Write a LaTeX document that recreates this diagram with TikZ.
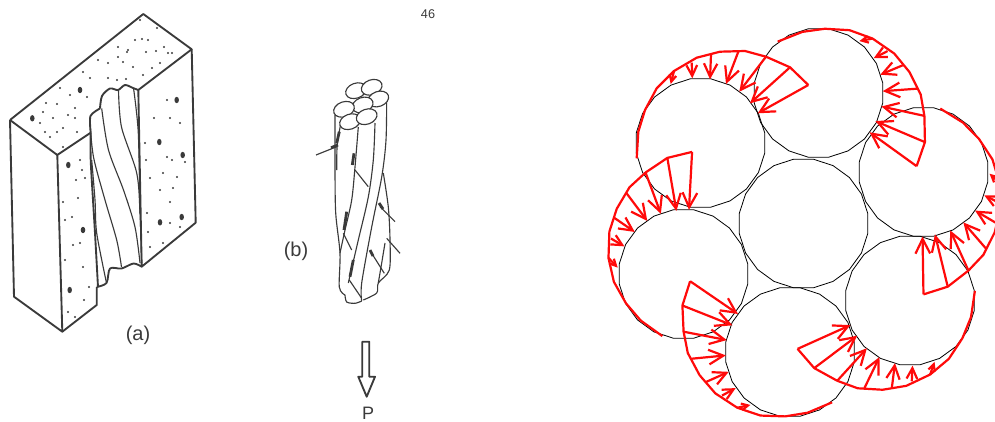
\documentclass[tikz,border=0pt]{standalone}
\usepackage{xcolor}
\usepackage{fontspec}
\setmainfont{Liberation Sans}
\usetikzlibrary{arrows.meta,shapes.geometric}
\definecolor{scanink}{HTML}{3A3A3A}
\definecolor{stressred}{HTML}{FF0A0A}

\begin{document}
\begin{tikzpicture}[x=0.75pt, y=-0.75pt,
    scan_line/.style={draw=scanink, line width=1.4pt, line join=round},
    scan_thin/.style={draw=scanink, line width=0.85pt},
    scan_label/.style={text=scanink, inner sep=0pt},
    wire_strand/.style={draw=black, regular polygon, regular polygon sides=20, minimum size=97.5pt, inner sep=0pt, line width=0.6pt},
    stress_line/.style={draw=stressred, line width=1.65pt, line join=round},
    stress_arrow/.style={draw=stressred, line width=1.65pt, -{Straight Barb[length=#1, width=#1, line width=1.65pt]}}
]
    \useasboundingbox (0,0) rectangle (995,421);

    % Block with the groove, (a)
    \draw[scan_line] (10,120) -- (143.3,14) -- (191.7,49.3) -- (138.3,90);
    \draw[scan_line] (10,120) -- (57.3,155) -- (90.7,132.7);
    \draw[scan_line] (191.7,49.3) -- (195.7,222.7) -- (141.7,266.7) -- (138.3,90);
    \draw[scan_line] (10,120) -- (14,296.7) -- (62.3,331.7) -- (57.3,155);
    \draw[scan_line] (62.3,331.7) -- (96.7,305) -- (96.7,287);
    \draw[scan_line] plot[smooth] coordinates {(90.7,132.7) (90.7,160) (93,200) (95,233) (98,287)};
    \draw[scan_line] plot[smooth] coordinates {(90.7,132.7) (90.5,116) (100,108.5)};
    \draw[scan_line] plot[smooth] coordinates {(100,108.5) (102,96) (110,88.5) (118,90) (125,85) (133,88) (138.3,90)};
    \draw[scan_line] plot[smooth] coordinates {(96.7,287) (106.5,283) (110,268.5) (121.5,268.5) (133.5,263.5) (141.7,266.7)};
    % Strands
    \draw[scan_thin] plot[smooth] coordinates {(90,123) (93.5,157) (105,200) (116.7,240) (121.5,267)};
    \draw[scan_thin] plot[smooth] coordinates {(101.7,108.5) (108.5,150) (123.5,190) (135,227) (140,263)};
    \draw[scan_thin] plot[smooth] coordinates {(118.5,90) (121.5,127) (136.7,173) (140,213) (141.7,263)};
    \draw[scan_thin] plot[smooth] coordinates {(133.5,88) (138.3,133) (140,213)};
    \draw[scan_thin] plot[smooth] coordinates {(91.7,160) (95,200) (96.7,233) (106.5,283)};

    % Stipple, (a)
    \foreach \dx/\dy in {135/40,142/39,148/40,118/47,128/50,146/52,156/51,164/47,168/53,172/53,98/60,108/63,123/62,118/57,127/52,83/72,60/88,90/78,108/78,117/80,133/67,143/75,152/68,160/63,140/20,157/28,87/97,75/108,68/115,46/103,57/104,43/112,40/123,45/132,50/137,57/132,63/128,53/118,75/118,77/132,70/95,63/147,126/79,
        80/160,76/180,85/178,82/170,63/202,72/217,78/198,65/220,73/245,80/243,65/260,83/267,89/287,84/300,68/312,75/317,
        167/100,154/118,170/118,180/123,145/143,167/157,172/160,146/160,185/162,150/178,163/173,177/177,160/190,173/188,170/202,147/213,170/223,148/232,163/243,150/247,180/227}
        \fill[scanink] (\dx,\dy) circle[radius=0.8pt];
    \foreach \dx/\dy in {32.3/118.3,80/90,176.7/100,159.3/142,182.7/155,68.3/165,83/230,160/222.3,181.7/217,69.7/290}
        \fill[scanink] (\dx,\dy) ellipse[x radius=1.7pt, y radius=2.4pt];

    % Loaded strand, (b)
    \draw[scan_thin] plot[smooth] coordinates {(335,115) (335,167) (335.7,213) (340,253) (339.3,287) (345,295)};
    \draw[scan_thin] plot[smooth] coordinates {(341.7,120) (337.3,143) (336.7,170)};
    \draw[scan_thin] plot[smooth] coordinates {(358.3,127) (355,167) (351.7,200) (345,230) (340,253)};
    \draw[scan_thin] plot[smooth] coordinates {(375,123) (373.3,160) (368.3,197) (358.3,240) (348.3,283)};
    \draw[scan_thin] plot[smooth] coordinates {(386.7,93) (386,140) (381.7,177) (371.7,227) (361.7,283) (361.7,301)};
    \draw[scan_thin] plot[smooth] coordinates {(383.3,173) (388.3,207) (390,240) (389.3,270) (378.3,283) (376.7,293) (363.3,300)};
    \draw[scan_thin] (385,243) -- (381.7,263) -- (378.3,283);
    \draw[scan_thin] plot[smooth] coordinates {(345,295) (346.7,302) (355,303.3) (361.7,301)};
    \foreach \ex/\ey in {356/90.7,371.7/87.3,378.3/99,362.7/105,344/109.3,350/121.7,366.7/116.7}
        \draw[scan_thin, fill=white] (\ex,\ey) ellipse[x radius=8pt, y radius=5.6pt, rotate=20];
    % Tension marks
    \foreach \ax/\ay/\bx/\by in {316/155/336.7/146.7, 368.3/186.7/355/170, 395/221.7/380/206.7, 351.7/250/343.3/233.3, 400/253.3/386.7/238.3, 384.3/273.3/371.7/253.3, 361.7/298.3/349.3/280}
        \draw[scan_thin] (\ax,\ay) -- (\bx,\by);
    \foreach \ax/\ay/\bx/\by in {339.3/131.7/336.7/143.3, 354/153.3/352.3/165, 346.7/211.7/344/230, 353.3/260/350/276.7, 331/147.7/338/145, 379/203/383/209, 370/250/373/256}
        \draw[scanink, line width=2.1pt] (\ax,\ay) -- (\bx,\by);

    % Load arrow
    \draw[scan_line] (362.3,341.7) -- (369.3,341.7) -- (369.3,376.7) -- (375,376.7) -- (366.7,396.7) -- (358.3,376.7) -- (362.3,376.7) -- cycle;

    % Labels
    \node[scan_label, font=\fontsize{15}{15}\selectfont] (lbl_a) at (138,335) {(a)};
    \node[scan_label, font=\fontsize{15}{15}\selectfont] (lbl_b) at (296,251) {(b)};
    \node[scan_label, font=\fontsize{9.5}{9.5}\selectfont] (lbl_page) at (428,14) {46};
    \node[scan_label, font=\fontsize{13.5}{13.5}\selectfont] (lbl_p) at (368,413) {P};

    % Wires
    \node[wire_strand] (w_core) at (803.5,223.5) {};
    \node[wire_strand] (w_topleft) at (700.5,143) {};
    \node[wire_strand] (w_top) at (818.5,93) {};
    \node[wire_strand] (w_right) at (923.5,172) {};
    \node[wire_strand] (w_lowright) at (910,300.5) {};
    \node[wire_strand] (w_bottom) at (790,352) {};
    \node[wire_strand] (w_left) at (683.5,274) {};

    % Stress blocks
    \foreach \wire/\ang in {w_topleft/0, w_top/-65, w_right/-118.3, w_lowright/-185, w_bottom/-243.6, w_left/-302.3}{
        \begin{scope}[shift={(\wire.center)}, rotate=\ang]
            \draw[stress_line] (107.8,-58) -- (89.5,-75.7) -- (65.5,-86.3) -- (44.5,-92) -- (19.5,-91.3) -- (-3.8,-85.3) -- (-26.5,-72) -- (-43.8,-54.7) -- (-55.5,-33) -- (-62.2,-11.3) -- (-63.8,15.3);
            \foreach \sx/\sy/\tx/\ty/\hd in {107.8/-58/57.2/-29.7/11pt, 89.5/-75.7/49.5/-39.7/11pt, 65.5/-86.3/38.8/-51.3/11pt, 37.8/-91.3/25.5/-59/11pt, 10.5/-88.7/9.5/-63.7/10pt, -8.8/-80.3/-8.2/-64.7/8pt, -26.5/-72/-29.8/-59/5pt}
                \draw[stress_arrow=\hd] (\sx,\sy) -- (\tx,\ty);
        \end{scope}
    }
\end{tikzpicture}
\end{document}
